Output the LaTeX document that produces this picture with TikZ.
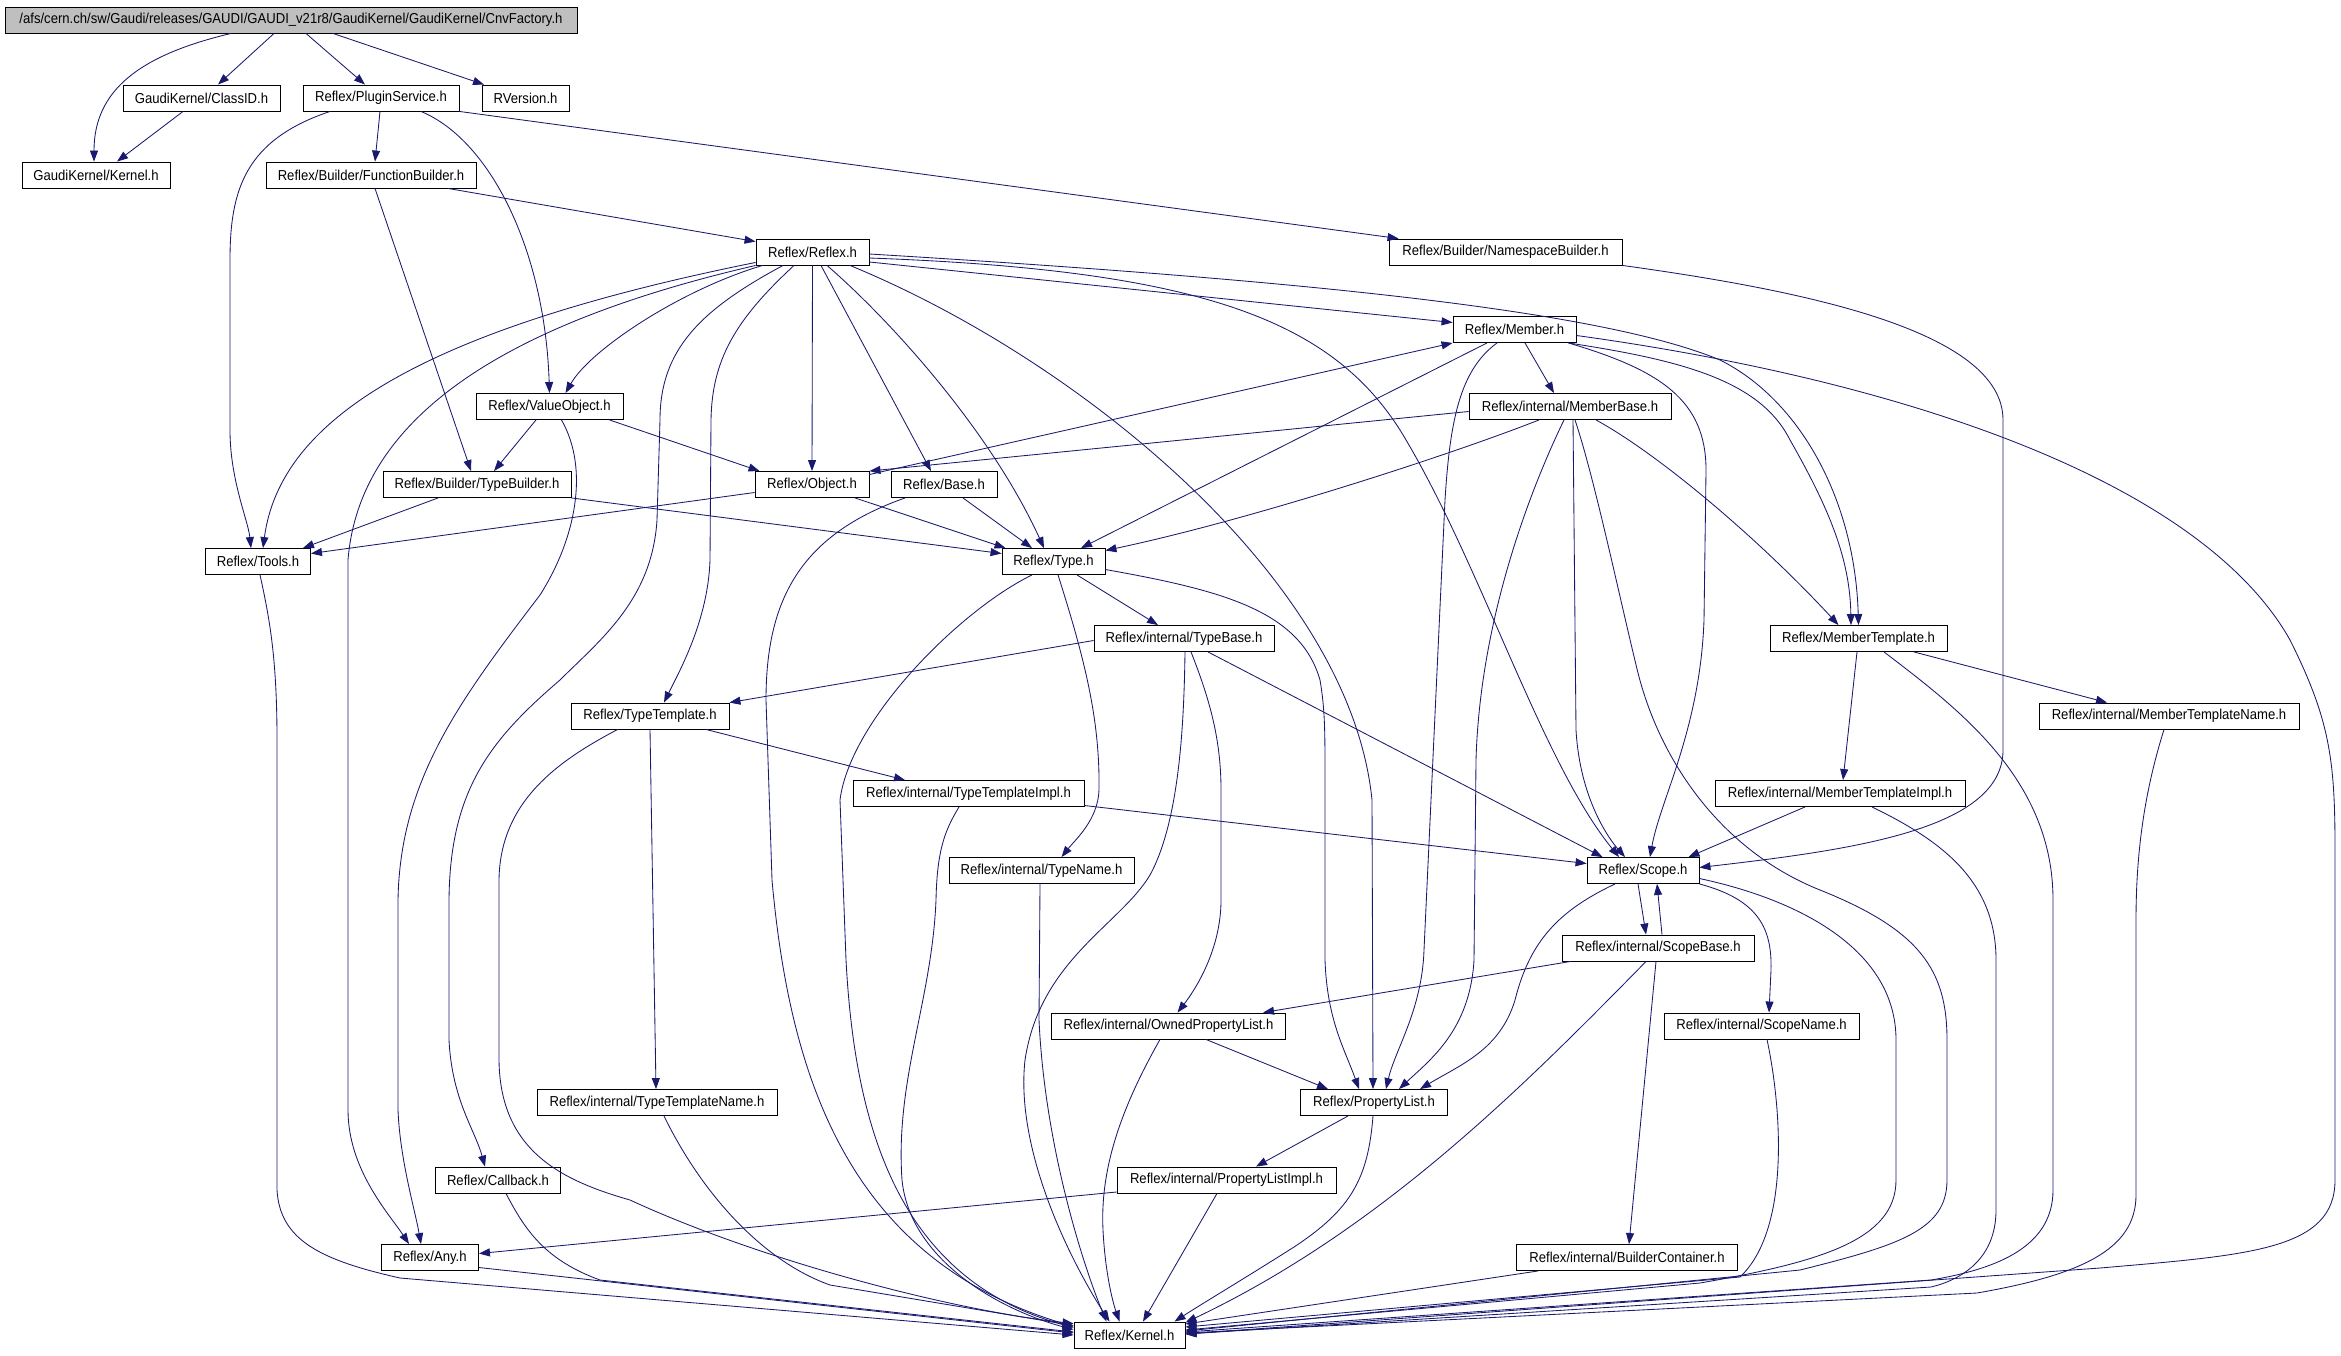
\documentclass[tikz,border=0pt]{standalone}
\usepackage{fontspec}
\setmainfont{Liberation Sans}[FakeStretch=0.91]
\usepackage{tikz}
\usetikzlibrary{arrows.meta,calc}
\definecolor{edgeblue}{HTML}{191970}
\definecolor{rootgray}{HTML}{BFBFBF}

\begin{document}
\begin{tikzpicture}[x=1pt,y=-1pt,
  file/.style={draw,line width=0.9pt,minimum height=26pt,inner sep=0pt,font=\fontsize{14.4}{16}\selectfont},
  dep/.style={draw=edgeblue,line width=0.85pt,-{Triangle[length=11pt,width=8pt]}}]
\useasboundingbox (0,0) rectangle (2341,1355);

  \node[file,fill=rootgray,minimum width=572pt] (cnvfactory) at (291,20) {/afs/cern.ch/sw/Gaudi/releases/GAUDI/GAUDI\_v21r8/GaudiKernel/GaudiKernel/CnvFactory.h};
  \node[file,minimum width=157pt] (classid) at (201.5,98) {GaudiKernel/ClassID.h};
  \node[file,minimum width=156pt] (plugin) at (381,98) {Reflex/PluginService.h};
  \node[file,minimum width=87pt] (rversion) at (525.5,98) {RVersion.h};
  \node[file,minimum width=148pt] (gkernel) at (96,175) {GaudiKernel/Kernel.h};
  \node[file,minimum width=210pt] (funcbuilder) at (371,175) {Reflex/Builder/FunctionBuilder.h};
  \node[file,minimum width=113pt] (reflex) at (812.5,252) {Reflex/Reflex.h};
  \node[file,minimum width=233pt] (nsbuilder) at (1505.5,252) {Reflex/Builder/NamespaceBuilder.h};
  \node[file,minimum width=123pt] (member) at (1514.5,329.5) {Reflex/Member.h};
  \node[file,minimum width=147pt] (valueobj) at (549.5,406.5) {Reflex/ValueObject.h};
  \node[file,minimum width=202pt] (memberbase) at (1570,406.5) {Reflex/internal/MemberBase.h};
  \node[file,minimum width=188pt] (typebuilder) at (477,484.5) {Reflex/Builder/TypeBuilder.h};
  \node[file,minimum width=114pt] (object) at (812,484.5) {Reflex/Object.h};
  \node[file,minimum width=106pt] (base) at (944,484.5) {Reflex/Base.h};
  \node[file,minimum width=105pt] (tools) at (258,561.5) {Reflex/Tools.h};
  \node[file,minimum width=103pt] (type) at (1053.5,561.5) {Reflex/Type.h};
  \node[file,minimum width=180pt] (typebase) at (1184,638.5) {Reflex/internal/TypeBase.h};
  \node[file,minimum width=177pt] (membertemplate) at (1858.5,638.5) {Reflex/MemberTemplate.h};
  \node[file,minimum width=158pt] (typetemplate) at (650,716) {Reflex/TypeTemplate.h};
  \node[file,minimum width=260pt] (mtname) at (2169,716) {Reflex/internal/MemberTemplateName.h};
  \node[file,minimum width=231pt] (ttimpl) at (968.5,793.5) {Reflex/internal/TypeTemplateImpl.h};
  \node[file,minimum width=250pt] (mtimpl) at (1840,793.5) {Reflex/internal/MemberTemplateImpl.h};
  \node[file,minimum width=185pt] (typename) at (1041.5,870.5) {Reflex/internal/TypeName.h};
  \node[file,minimum width=112pt] (scope) at (1643,870.5) {Reflex/Scope.h};
  \node[file,minimum width=192pt] (scopebase) at (1658,948) {Reflex/internal/ScopeBase.h};
  \node[file,minimum width=234pt] (ownedpl) at (1168.5,1026) {Reflex/internal/OwnedPropertyList.h};
  \node[file,minimum width=195pt] (scopename) at (1761.5,1026) {Reflex/internal/ScopeName.h};
  \node[file,minimum width=240pt] (ttname) at (657,1102.5) {Reflex/internal/TypeTemplateName.h};
  \node[file,minimum width=147pt] (proplist) at (1374,1102.5) {Reflex/PropertyList.h};
  \node[file,minimum width=125pt] (callback) at (498,1180) {Reflex/Callback.h};
  \node[file,minimum width=219pt] (plimpl) at (1226.5,1180) {Reflex/internal/PropertyListImpl.h};
  \node[file,minimum width=97pt] (anyh) at (430,1257.5) {Reflex/Any.h};
  \node[file,minimum width=221pt] (buildercont) at (1627,1257.5) {Reflex/internal/BuilderContainer.h};
  \node[file,minimum width=111pt] (kernel) at (1129.5,1335) {Reflex/Kernel.h};

  % CnvFactory.h
  \draw[dep] ($(cnvfactory.south)+(-60,0)$) .. controls (140,55) and (94,90) .. ($(gkernel.north)+(-2,0)$);
  \draw[dep] ($(cnvfactory.south)+(-17,0)$) -- ($(classid.north)+(16.5,0)$);
  \draw[dep] ($(cnvfactory.south)+(15,0)$) -- ($(plugin.north)+(-16,0)$);
  \draw[dep] ($(cnvfactory.south)+(42,0)$) -- ($(rversion.north)+(-41.5,0)$);
  \draw[dep] ($(classid.south)+(-18.5,0)$) -- ($(gkernel.north)+(21,0)$);

  % PluginService.h
  \draw[dep] ($(plugin.south)+(-51,0)$) .. controls (245,140) and (230,190) .. (230,260) -- (230,430) .. controls (230,480) and (248,520) .. ($(tools.north)+(-7,0)$);
  \draw[dep] ($(plugin.south)+(-1,0)$) -- ($(funcbuilder.north)+(4,0)$);
  \draw[dep] ($(plugin.south)+(40,0)$) .. controls (490,140) and (545,250) .. (valueobj.north);
  \draw[dep] (plugin.south east) -- ($(nsbuilder.north west)+(10,0)$);

  % FunctionBuilder.h
  \draw[dep] ($(funcbuilder.south)+(77,0)$) -- ($(reflex.north west)+(0,3)$);
  \draw[dep] ($(funcbuilder.south)+(4,0)$) -- ($(typebuilder.north)+(-6,0)$);

  % Reflex.h
  \draw[dep] ($(reflex.south west)+(0,-3)$) .. controls (420,330) and (280,420) .. ($(tools.north)+(5,0)$);
  \draw[dep] (reflex.south west) .. controls (520,320) and (360,410) .. (348,560) -- (348,1110) .. controls (348,1170) and (390,1215) .. ($(anyh.north)+(-21,0)$);
  \draw[dep] ($(reflex.south)+(-50,0)$) .. controls (680,290) and (590,350) .. ($(valueobj.north)+(16,0)$);
  \draw[dep] ($(reflex.south)+(-29.5,0)$) .. controls (700,310) and (660,350) .. (660,420) -- (657,520) .. controls (652,600) and (600,640) .. (560,680) .. controls (490,740) and (450,790) .. (449,900) -- (449,1040) .. controls (452,1100) and (475,1130) .. ($(callback.north)+(-13,0)$);
  \draw[dep] ($(reflex.south)+(-18.5,0)$) .. controls (735,320) and (712,360) .. (711,420) -- (710,560) .. controls (708,620) and (680,670) .. ($(typetemplate.north)+(14,0)$);
  \draw[dep] (reflex.south) -- (object.north);
  \draw[dep] ($(reflex.south)+(8.5,0)$) -- ($(base.north)+(-13,0)$);
  \draw[dep] ($(reflex.south)+(14.5,0)$) .. controls (890,320) and (990,430) .. ($(type.north)+(-9.5,0)$);
  \draw[dep] ($(reflex.south)+(37.5,0)$) .. controls (1080,360) and (1350,580) .. (1372,800) -- ($(proplist.north)+(-1,0)$);
  \draw[dep] ($(reflex.east)+(0,6)$) .. controls (1200,270) and (1330,320) .. (1400,430) .. controls (1480,560) and (1540,760) .. ($(scope.north)+(-24,0)$);
  \draw[dep] ($(reflex.east)+(0,10)$) -- ($(member.west)+(0,-7)$);
  \draw[dep] ($(reflex.east)+(0,2)$) .. controls (1300,280) and (1600,310) .. (1720,360) .. controls (1800,400) and (1855,500) .. (membertemplate.north);

  % NamespaceBuilder.h
  \draw[dep] (nsbuilder.south east) .. controls (1800,290) and (2003,330) .. (2003,420) -- (2003,750) .. controls (2003,830) and (1850,850) .. ($(scope.east)+(0,-3)$);

  % Member.h
  \draw[dep] ($(member.south)+(10.5,0)$) -- ($(memberbase.north)+(-16,0)$);
  \draw[dep] ($(member.south)+(-27.5,0)$) -- ($(type.north)+(27.5,0)$);
  \draw[dep] ($(member.south)+(-17.5,0)$) .. controls (1460,370) and (1450,420) .. (1445,500) -- (1424,950) .. controls (1422,1010) and (1395,1050) .. ($(proplist.north)+(12,0)$);
  \draw[dep] ($(member.south east)+(-8,0)$) .. controls (1660,370) and (1706,400) .. (1706,470) -- (1704,620) .. controls (1700,730) and (1660,800) .. ($(scope.north)+(7,0)$);
  \draw[dep] ($(member.south east)+(-8,0)$) .. controls (1680,360) and (1760,380) .. (1790,440) .. controls (1830,510) and (1850,560) .. ($(membertemplate.north)+(-7.5,0)$);
  \draw[dep] ($(member.east)+(0,6)$) .. controls (1900,380) and (2200,480) .. (2290,640) .. controls (2330,720) and (2335,760) .. (2335,850) -- (2335,1180) .. controls (2335,1250) and (2250,1255) .. (2100,1268) -- ($(kernel.east)+(0,-1)$);

  % MemberBase.h
  \draw[dep] ($(memberbase.west)+(0,5)$) -- (object.north east);
  \draw[dep] ($(memberbase.south)+(-31,0)$) .. controls (1450,455) and (1250,520) .. ($(type.east)+(0,-11)$);
  \draw[dep] ($(memberbase.south)+(-6,0)$) .. controls (1530,490) and (1480,620) .. (1476,760) -- (1474,960) .. controls (1470,1030) and (1430,1060) .. ($(proplist.north)+(25,0)$);
  \draw[dep] ($(memberbase.south)+(3,0)$) -- (1576,730) .. controls (1580,800) and (1610,840) .. ($(scope.north)+(-18,0)$);
  \draw[dep] ($(memberbase.south)+(5,0)$) .. controls (1595,480) and (1620,600) .. (1638,673) .. controls (1660,760) and (1720,850) .. (1820,890) .. controls (1920,930) and (1947,970) .. (1947,1040) -- (1947,1180) .. controls (1947,1230) and (1900,1245) .. (1800,1270) -- ($(kernel.east)+(0,-4)$);
  \draw[dep] ($(memberbase.south)+(26,0)$) .. controls (1660,455) and (1760,540) .. ($(membertemplate.north)+(-20,0)$);

  % Object.h, Base.h
  \draw[dep] ($(object.south)+(43,0)$) -- ($(type.north)+(-48,0)$);
  \draw[dep] ($(object.west)+(0,8)$) -- ($(tools.east)+(0,-8)$);
  \draw[dep] ($(object.east)+(0,-10)$) -- (member.south west);
  \draw[dep] ($(base.south)+(19,0)$) -- ($(type.north)+(-21.5,0)$);
  \draw[dep] ($(base.south)+(-39,0)$) .. controls (800,535) and (766,600) .. (766,700) -- (772,880) .. controls (790,1080) and (850,1260) .. ($(kernel.north west)+(0,5)$);

  % ValueObject.h, TypeBuilder.h, Tools.h
  \draw[dep] ($(valueobj.south)+(-13.5,0)$) -- ($(typebuilder.north)+(17,0)$);
  \draw[dep] ($(valueobj.south)+(60,0)$) -- ($(object.north west)+(5,0)$);
  \draw[dep] ($(valueobj.south)+(12,0)$) .. controls (590,470) and (575,540) .. (540,595) .. controls (460,700) and (400,780) .. (398,900) -- (398,1110) .. controls (400,1160) and (415,1210) .. ($(anyh.north)+(-9,0)$);
  \draw[dep] ($(typebuilder.south)+(-39,0)$) -- ($(tools.north east)+(-8,0)$);
  \draw[dep] (typebuilder.south east) -- ($(type.west)+(0,-8)$);
  \draw[dep] ($(tools.south)+(2,0)$) .. controls (270,620) and (277,660) .. (277,740) -- (277,1190) .. controls (280,1240) and (320,1260) .. (400,1278) -- (kernel.west);

  % Type.h
  \draw[dep] ($(type.south)+(23.5,0)$) -- ($(typebase.north)+(-26,0)$);
  \draw[dep] ($(type.south)+(4.5,0)$) .. controls (1085,660) and (1100,720) .. (1099,790) .. controls (1098,820) and (1075,840) .. ($(typename.north)+(20,0)$);
  \draw[dep] ($(type.east)+(0,8)$) .. controls (1220,590) and (1300,610) .. (1320,680) .. controls (1325,710) and (1325,730) .. (1325,780) -- (1325,960) .. controls (1327,1020) and (1345,1050) .. ($(proplist.north)+(-15,0)$);
  \draw[dep] ($(type.south)+(-21.5,0)$) .. controls (960,610) and (850,720) .. (840,800) -- (846,960) .. controls (855,1130) and (900,1280) .. ($(kernel.north west)+(0,6)$);

  % TypeBase.h
  \draw[dep] ($(typebase.west)+(0,2)$) -- (typetemplate.north east);
  \draw[dep] ($(typebase.south)+(24,0)$) -- ($(scope.north west)+(16,0)$);
  \draw[dep] ($(typebase.south)+(7,0)$) .. controls (1210,700) and (1221,740) .. (1221,790) -- (1221,900) .. controls (1221,950) and (1195,990) .. ($(ownedpl.north)+(9,0)$);
  \draw[dep] ($(typebase.south)+(1,0)$) .. controls (1184,720) and (1180,820) .. (1150,875) .. controls (1120,925) and (1040,960) .. (1025,1060) .. controls (1015,1150) and (1070,1260) .. ($(kernel.north)+(-20,0)$);

  % TypeTemplate.h, TypeTemplateImpl.h, TypeName.h
  \draw[dep] ($(typetemplate.south)+(56,0)$) -- ($(ttimpl.north)+(-63.5,0)$);
  \draw[dep] (typetemplate.south) -- ($(ttname.north)+(-1,0)$);
  \draw[dep] ($(typetemplate.south west)+(47,0)$) .. controls (560,760) and (500,800) .. (499,880) -- (499,1060) .. controls (500,1150) and (560,1180) .. (630,1200) .. controls (760,1260) and (950,1310) .. ($(kernel.north west)+(0,2)$);
  \draw[dep] ($(ttimpl.east)+(0,12)$) -- ($(scope.west)+(0,-7)$);
  \draw[dep] ($(ttimpl.south)+(-9.5,0)$) .. controls (945,830) and (937,850) .. (936,900) .. controls (932,1000) and (895,1080) .. (902,1180) .. controls (910,1260) and (1000,1310) .. ($(kernel.north west)+(0,8)$);
  \draw[dep] ($(typename.south)+(-1.5,0)$) -- (1039,1020) .. controls (1045,1150) and (1085,1270) .. ($(kernel.north)+(-23,0)$);
  \draw[dep] ($(ttname.south)+(7,0)$) .. controls (700,1190) and (760,1260) .. (830,1285) -- ($(kernel.north west)+(0,4)$);

  % Scope.h, ScopeBase.h
  \draw[dep] ($(scope.south)+(-28,0)$) .. controls (1560,910) and (1530,940) .. (1515,1000) .. controls (1500,1050) and (1460,1065) .. ($(proplist.north)+(46,0)$);
  \draw[dep] ($(scope.south)+(-5,0)$) -- ($(scopebase.north)+(-12,0)$);
  \draw[dep] (scope.south east) .. controls (1760,900) and (1772,930) .. (1771,970) -- ($(scopename.north)+(7.5,0)$);
  \draw[dep] ($(scope.east)+(0,8)$) .. controls (1800,900) and (1896,950) .. (1896,1040) -- (1896,1180) .. controls (1896,1240) and (1820,1262) .. (1700,1283) -- ($(kernel.east)+(0,-5)$);
  \draw[dep] ($(scopebase.north)+(4,0)$) -- ($(scope.south)+(14,0)$);
  \draw[dep] ($(scopebase.south west)+(9,0)$) -- ($(ownedpl.north)+(94.5,0)$);
  \draw[dep] ($(scopebase.south)+(-12,0)$) .. controls (1520,1090) and (1380,1230) .. ($(kernel.north east)+(0,1)$);
  \draw[dep] ($(scopebase.south)+(-2,0)$) -- ($(buildercont.north)+(2,0)$);

  % PropertyList.h and friends
  \draw[dep] ($(ownedpl.south)+(37.5,0)$) -- ($(proplist.north)+(-46,0)$);
  \draw[dep] ($(ownedpl.south)+(-8.5,0)$) .. controls (1120,1110) and (1100,1170) .. (1103,1230) .. controls (1105,1270) and (1112,1300) .. ($(kernel.north)+(-10,0)$);
  \draw[dep] ($(proplist.south)+(-26,0)$) -- ($(plimpl.north)+(29.5,0)$);
  \draw[dep] ($(proplist.south)+(-1,0)$) .. controls (1368,1180) and (1350,1210) .. (1294,1247) .. controls (1250,1275) and (1200,1305) .. ($(kernel.north)+(45,0)$);
  \draw[dep] ($(plimpl.west)+(0,12)$) -- ($(anyh.east)+(0,-4)$);
  \draw[dep] ($(plimpl.south)+(-9.5,0)$) -- ($(kernel.north)+(13.5,0)$);
  \draw[dep] ($(callback.south)+(8,0)$) .. controls (525,1230) and (545,1260) .. (600,1280) -- ($(kernel.west)+(0,-3)$);
  \draw[dep] ($(anyh.east)+(0,10)$) -- ($(kernel.west)+(0,-2)$);
  \draw[dep] ($(buildercont.south west)+(22,0)$) -- ($(kernel.east)+(0,-11)$);
  \draw[dep] ($(scopename.south)+(5.5,0)$) .. controls (1782,1110) and (1790,1230) .. (1740,1277) -- ($(kernel.east)+(0,-8)$);

  % MemberTemplate.h
  \draw[dep] ($(membertemplate.south)+(-1.5,0)$) -- ($(mtimpl.north)+(3,0)$);
  \draw[dep] ($(membertemplate.south)+(55.5,0)$) -- ($(mtname.north)+(-62,0)$);
  \draw[dep] ($(membertemplate.south)+(25.5,0)$) .. controls (1960,710) and (2053,780) .. (2053,900) -- (2053,1190) .. controls (2053,1250) and (1990,1270) .. (1931,1280) -- ($(kernel.east)+(0,-3)$);
  \draw[dep] ($(mtname.south)+(-5,0)$) .. controls (2145,790) and (2136,850) .. (2136,920) -- (2136,1195) .. controls (2136,1250) and (2080,1275) .. (1977,1293) -- ($(kernel.east)+(0,-2)$);
  \draw[dep] ($(mtimpl.south)+(-35,0)$) -- ($(scope.north east)+(-11,0)$);
  \draw[dep] ($(mtimpl.south)+(32,0)$) .. controls (1940,840) and (1996,880) .. (1996,960) -- (1996,1210) .. controls (1996,1260) and (1960,1280) .. (1931,1287) -- ($(kernel.east)+(0,-1)$);

\end{tikzpicture}
\end{document}
